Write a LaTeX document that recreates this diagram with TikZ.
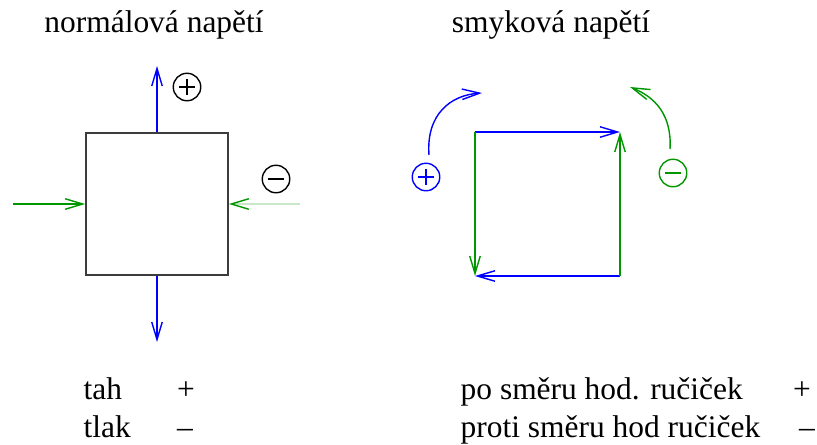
\documentclass[tikz,border=0pt]{standalone}
\usepackage{fontspec}
\setmainfont{Liberation Serif}
\usetikzlibrary{arrows.meta}
\definecolor{sgreen}{RGB}{0,150,0}
\definecolor{pgreen}{RGB}{200,230,200}
\definecolor{boxgray}{RGB}{60,60,60}

\begin{document}
\begin{tikzpicture}[x=0.02cm, y=-0.02cm, line width=0.8pt,
    txt/.style={font=\fontsize{17.9}{20}\selectfont, inner sep=0pt},
    vee/.style={-{Straight Barb[length=10pt,width=6pt]}},
    sgn/.style={circle, draw, minimum size=0.55cm, inner sep=0pt}]
    \useasboundingbox (0,0) rectangle (817,444);
    % titles
    \node[txt, anchor=base] (tnorm) at (154,32) {normálová napětí};
    \node[txt, anchor=base] (tsmyk) at (551,32) {smyková napětí};

    % ---- Left panel: normal stress ----
    \node[draw=boxgray, line width=1pt, minimum size=2.84cm, inner sep=0pt] (box) at (157,204) {};
    \coordinate (ntop) at (157,66);
    \coordinate (nbot) at (157,342);
    \coordinate (nleft) at (13,204);
    \coordinate (nright) at (300,204);
    \draw[blue, vee] (box.north) -- (ntop);
    \draw[blue, vee] (box.south) -- (nbot);
    \draw[sgreen, vee] (nleft) -- (box.west);
    \draw[pgreen, -{Straight Barb[length=10pt,width=6pt,color=sgreen]}] (nright) -- (box.east);
    % signs
    \node[sgn] (plusN) at (187,87) {};
    \draw (plusN.center) +(-8,0) -- +(8,0) +(0,-8) -- +(0,8);
    \node[sgn] (minusN) at (276,179) {};
    \draw (minusN.center) +(-8,0) -- +(8,0);

    % ---- Right panel: shear stress ----
    \coordinate (sa) at (475,132);
    \coordinate (sb) at (620,132);
    \coordinate (sc) at (620,276);
    \coordinate (sd) at (475,276);
    \draw[blue, vee] (sa) -- (sb);
    \draw[blue, vee] (sc) -- (sd);
    \draw[sgreen, vee] (sc) -- (sb);
    \draw[sgreen, vee] (sa) -- (sd);
    % rotation arcs
    \coordinate (bst) at (429,155);
    \coordinate (bend) at (482,93);
    \coordinate (gst) at (670,149);
    \coordinate (gend) at (630,87);
    \draw[blue, vee] (bst) .. controls (426,115) and (450,95) .. (bend);
    \draw[sgreen, vee] (gst) .. controls (672,115) and (655,97) .. (gend);
    % signs
    \node[sgn, blue] (plusS) at (426,177) {};
    \draw[blue] (plusS.center) +(-8,0) -- +(8,0) +(0,-8) -- +(0,8);
    \node[sgn, sgreen] (minusS) at (673,173) {};
    \draw[sgreen] (minusS.center) +(-8,0) -- +(8,0);

    % ---- Legend ----
    \node[txt, anchor=base west] (tah) at (83,399) {tah};
    \node[txt, anchor=base] (tahs) at (186,399) {+};
    \node[txt, anchor=base west] (tlak) at (83,437) {tlak};
    \node[txt, anchor=base] (tlaks) at (185,437) {–};
    \node[txt, anchor=base west] (po) at (460,399) {po směru hod. ručiček};
    \node[txt, anchor=base] (pos) at (802,399) {+};
    \node[txt, anchor=base west] (proti) at (460,437) {proti směru hod ručiček};
    \node[txt, anchor=base] (protis) at (807,437) {–};
\end{tikzpicture}
\end{document}
